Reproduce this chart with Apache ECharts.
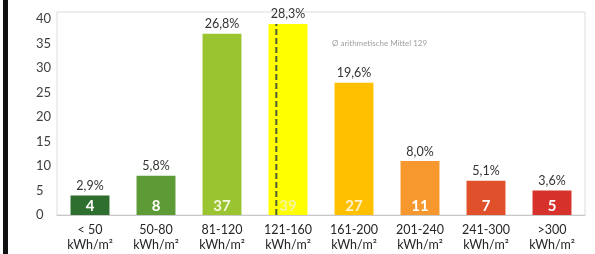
<!DOCTYPE html>
<html><head><meta charset="utf-8">
<script src="https://cdn.jsdelivr.net/npm/echarts@6/dist/echarts.min.js"></script>
<style>html,body{margin:0;padding:0;background:#fff}#c{width:595px;height:254px}</style>
</head><body><div id="c"></div>
<script>
var categories = ['< 50\nkWh/m²','50-80\nkWh/m²','81-120\nkWh/m²','121-160\nkWh/m²','161-200\nkWh/m²','201-240\nkWh/m²','241-300\nkWh/m²','>300\nkWh/m²'];
var counts = [4, 8, 37, 39, 27, 11, 7, 5];
var percents = ['2,9%','5,8%','26,8%','28,3%','19,6%','8,0%','5,1%','3,6%'];
var barColors = ['#2e6e2e','#5c9b35','#9bc431','#ffff00','#ffc000','#f7982e','#e0502b','#d6322b'];
var countLabelColors = ['#fff','#fff','#f4f8e0','#f5f59a','#fff2cc','#fff','#fff','#fff'];
var yTicks = [0,5,10,15,20,25,30,35,40];
var meanValue = 129;
var meanBandIndex = 3, meanBandFrom = 121, meanBandTo = 160;
var meanText = 'Ø arithmetische Mittel 129';

var barFrac = 0.6;
var meanPos = meanBandIndex + (1 - barFrac) / 2 + barFrac * (meanValue - meanBandFrom) / (meanBandTo - meanBandFrom);

var chart = echarts.init(document.getElementById('c'), null, {renderer:'canvas'});
var font = 'Lato, "Open Sans", sans-serif';
chart.setOption({
  animation:false,
  grid:{left:57, right:10, top:19, bottom:39},
  graphic:[
    {type:'rect', shape:{x:3,y:0,width:5,height:254}, style:{fill:'#111'}, z:10},
    {type:'rect', shape:{x:57,y:12,width:528,height:203}, style:{fill:'none', stroke:'#dcdcdc', lineWidth:1}, z:0},
    {type:'text', left:332, top:39, style:{text:meanText, fill:'#a0a0a0', font:'8px ' + font}, z:10}
  ],
  xAxis:[{
    type:'category', data:categories,
    axisLine:{show:true, lineStyle:{color:'#c8c8c8'}},
    axisTick:{show:false},
    axisLabel:{color:'#262626', fontSize:12.5, fontFamily:font, lineHeight:15, margin:7, interval:0}
  },{
    type:'value', min:0, max:categories.length, show:false
  }],
  yAxis:{
    type:'value', min:0, max:40, interval:5,
    axisLine:{show:false}, axisTick:{show:false},
    splitLine:{show:false},
    axisLabel:{color:'#404040', fontSize:13, fontFamily:font, align:'left', margin:21,
      formatter:function(v){return yTicks.indexOf(v)>=0 ? String(v) : '';}}
  },
  series:[{
    type:'bar', data:counts.map(function(v,i){return {value:v, itemStyle:{color:barColors[i]},
      label:{color:countLabelColors[i]}};}),
    barWidth:'59%',
    label:{show:true, position:'insideBottom', distance:1, fontSize:15, fontFamily:font, fontWeight:'bold',
      formatter:function(p){return String(counts[p.dataIndex]);}}
  },{
    type:'bar', data:counts, barWidth:'59%', barGap:'-100%',
    itemStyle:{color:'transparent'}, silent:true, z:1,
    label:{show:true, position:'top', distance:3, color:'#333', fontSize:12.5, fontFamily:font,
      formatter:function(p){return percents[p.dataIndex];}}
  },{
    type:'line', xAxisIndex:1, data:[[meanPos,0],[meanPos,counts[meanBandIndex]]],
    symbol:'none', z:5,
    lineStyle:{color:'#4d5e33', width:2, type:[6,3]}
  }]
});
</script></body></html>
